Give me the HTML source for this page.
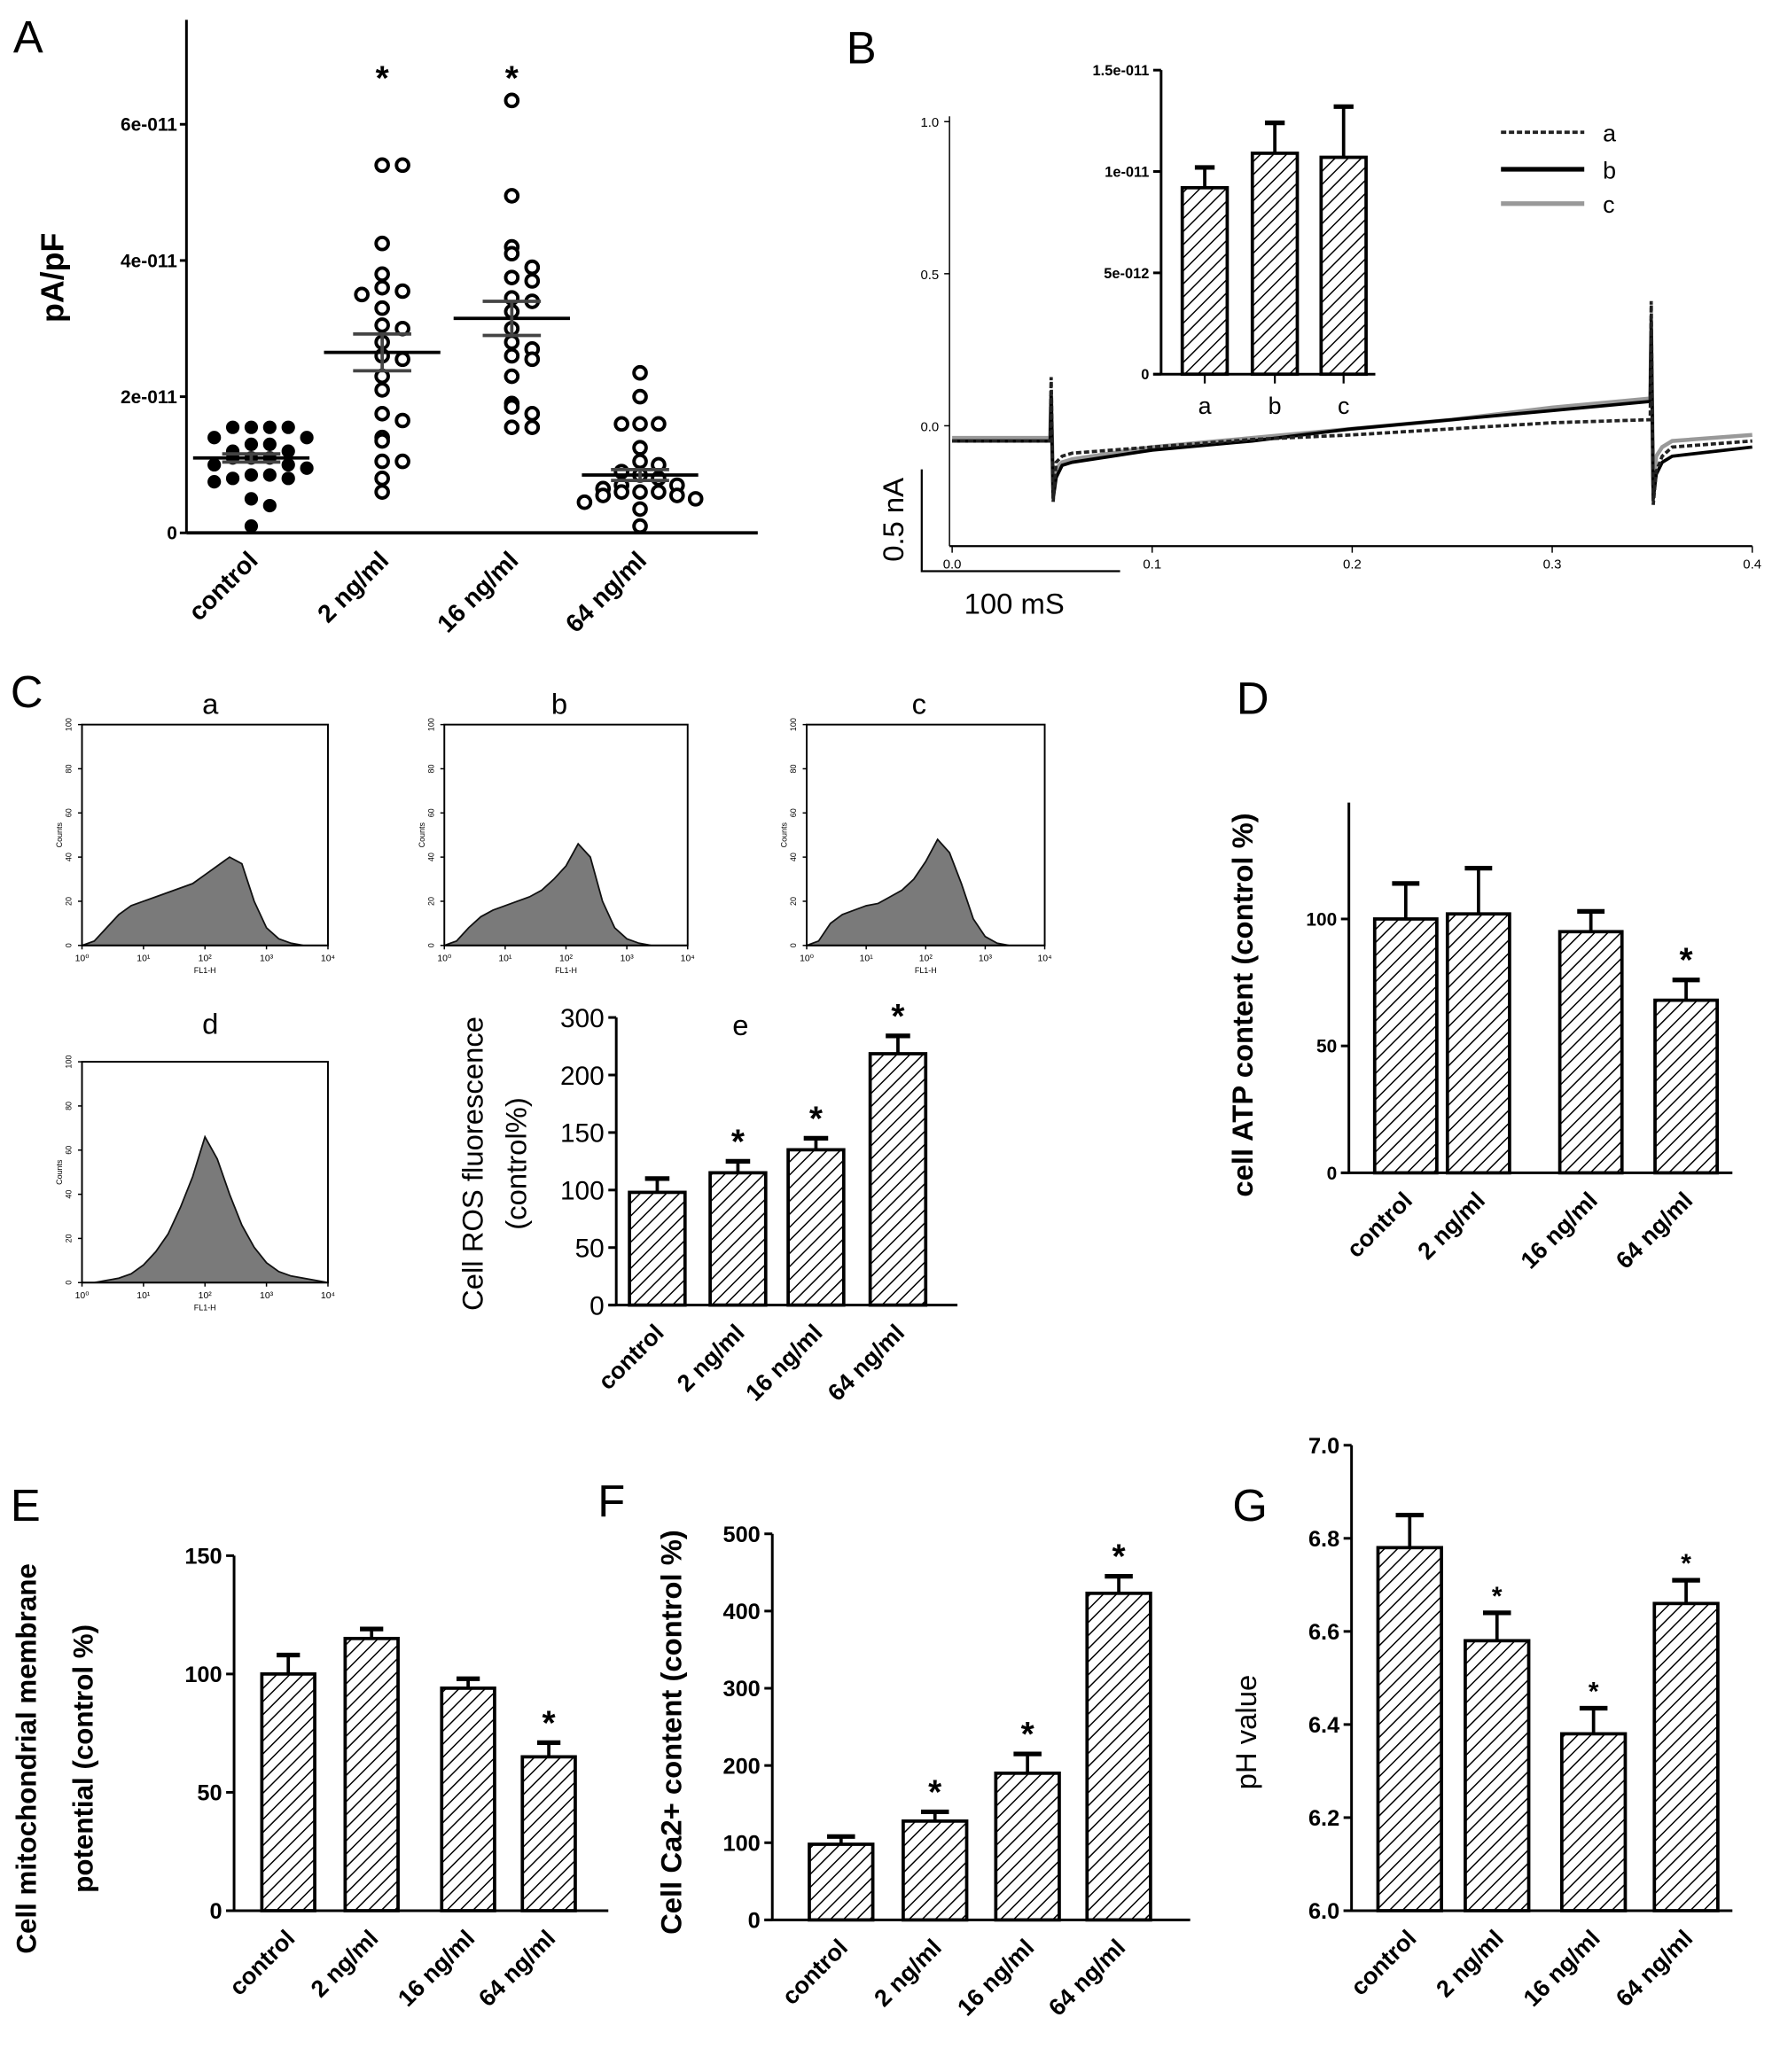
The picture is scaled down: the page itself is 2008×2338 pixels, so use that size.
<!DOCTYPE html>
<html><head><meta charset="utf-8"><style>
html,body{margin:0;padding:0;background:#fff}
svg{display:block}
text{font-family:"Liberation Sans",Arial,sans-serif}
</style></head><body>
<svg id="fig" xmlns="http://www.w3.org/2000/svg" width="2008" height="2338" viewBox="0 0 1346 1567" preserveAspectRatio="none">
<defs>
<pattern id="hatch" patternUnits="userSpaceOnUse" width="7" height="7" patternTransform="rotate(45)">
<rect width="7" height="7" fill="#fff"/><line x1="0" y1="0" x2="0" y2="7" stroke="#000" stroke-width="2"/>
</pattern>
</defs>
<rect width="1346" height="1567" fill="#fff"/>
</svg>
<script>
const NS='http://www.w3.org/2000/svg';
const svg=document.getElementById('fig');
function mk(tag,attrs,parent,txt){const e=document.createElementNS(NS,tag);for(const k in attrs)e.setAttribute(k,attrs[k]);if(txt!==undefined)e.textContent=txt;(parent||svg).appendChild(e);return e;}

/* ---------- DATA ---------- */
const cats=['control','2 ng/ml','16 ng/ml','64 ng/ml'];
const aControl=[1.55,1.55,1.55,1.55,1.4,1.4,1.3,1.3,1.2,1.2,1.1,1.1,1.1,1.0,1.0,0.95,0.85,0.85,0.8,0.8,0.75,0.5,0.4,0.1];
const a2=[5.4,5.4,4.25,3.8,3.6,3.55,3.5,3.3,3.05,3.0,2.8,2.6,2.55,2.3,2.1,1.75,1.65,1.4,1.35,1.05,1.05,0.8,0.6];
const a16=[6.35,4.95,4.2,4.1,3.9,3.75,3.7,3.45,3.4,3.25,3.0,2.8,2.7,2.6,2.55,2.3,1.9,1.85,1.75,1.55,1.55];
const a64=[2.35,2.0,1.6,1.6,1.6,1.25,1.05,1.0,0.9,0.85,0.8,0.7,0.7,0.65,0.6,0.6,0.6,0.55,0.55,0.5,0.45,0.35,0.1];
const aMean=[1.1,2.65,3.15,0.85];
const aSem=[0.06,0.27,0.25,0.08];
const aTicks=[0,2,4,6];
const aTickLabels=['0','2e-011','4e-011','6e-011'];
const bCats=['a','b','c'];
const bVals=[0.92,1.09,1.07];
const bErr=[0.10,0.15,0.25];
const bTicks=[0,0.5,1.0,1.5];
const bTickLabels=['0','5e-012','1e-011','1.5e-011'];
const trT=[0,0.049,0.0495,0.0505,0.052,0.055,0.06,0.08,0.1,0.15,0.2,0.25,0.3,0.349,0.3495,0.3505,0.352,0.355,0.36,0.4];
const trA=[-0.05,-0.05,0.16,-0.25,-0.12,-0.1,-0.09,-0.08,-0.07,-0.045,-0.03,-0.01,0.01,0.02,0.41,-0.26,-0.15,-0.1,-0.07,-0.05];
const trB=[-0.05,-0.05,0.1,-0.24,-0.17,-0.13,-0.12,-0.1,-0.08,-0.05,-0.01,0.02,0.05,0.08,0.35,-0.24,-0.16,-0.12,-0.1,-0.07];
const trC=[-0.04,-0.04,0.1,-0.22,-0.14,-0.12,-0.11,-0.09,-0.07,-0.04,-0.01,0.02,0.06,0.09,0.3,-0.2,-0.1,-0.07,-0.05,-0.03];
const trTicks=[0,0.1,0.2,0.3,0.4];
const trYTicks=[0,0.5,1.0];
const histA=[0,2,8,14,18,20,22,24,26,28,32,36,40,37,20,8,3,1,0,0,0];
const histB=[0,2,8,13,16,18,20,22,25,30,36,46,40,20,8,3,1,0,0,0,0];
const histC=[0,2,10,14,16,18,19,22,25,30,38,48,42,28,12,4,1,0,0,0,0];
const histD=[0,0,1,2,4,8,14,22,34,48,66,56,40,26,16,9,5,3,2,1,0];
const histTicks=[0,20,40,60,80,100];
const eVals=[98,115,135,237];
const eErr=[12,10,10,31];
const eTicks=[0,50,100,150,200,300];
const dVals=[100,102,95,68];
const dErr=[14,18,8,8];
const dTicks=[0,50,100];
const EVals=[100,115,94,65];
const EErr=[8,4,4,6];
const ETicks=[0,50,100,150];
const fVals=[98,128,190,423];
const fErr=[10,12,25,22];
const fTicks=[0,100,200,300,400,500];
const gVals=[6.78,6.58,6.38,6.66];
const gErr=[0.07,0.06,0.055,0.05];
const gTicks=[6.0,6.2,6.4,6.6,6.8,7.0];
const gTickLabels=['6.0','6.2','6.4','6.6','6.8','7.0'];

/* ---------- helpers ---------- */
function letter(t,x,y){const e=mk('text',{x:x,y:y,'font-size':34},svg,t);}
function catLabels(g,xs,y0,fs,name){xs.forEach((x,i)=>{const t=mk('text',{x:x+6,y:y0,'font-size':fs,'font-weight':'bold','text-anchor':'end',transform:`rotate(-45 ${x+6} ${y0})`},g,cats[i]);});}
function barChart(o){
 const g=mk('g',{});
 const Y=o.yf;
 const ya=mk('line',{x1:o.ax,y1:Y(o.ticks[o.ticks.length-1])-(o.extra||0),x2:o.ax,y2:o.y0,stroke:'#000','stroke-width':2},g);
 
 const xa=mk('line',{x1:o.ax-6,y1:o.y0,x2:o.axEnd,y2:o.y0,stroke:'#000','stroke-width':2},g);
 
 o.ticks.forEach((v,i)=>{const y=Y(v);mk('line',{x1:o.ax-6,y1:y,x2:o.ax,y2:y,stroke:'#000','stroke-width':2},g);
  const t=mk('text',{x:o.ax-9,y:y+o.tfs*0.36,'font-size':o.tfs,'text-anchor':'end','font-weight':o.tbold?'bold':'normal'},g,o.tl?o.tl[i]:String(v));
  });
 o.vals.forEach((v,i)=>{const x=o.xs[i],w=o.bw;const yt=Y(v),ye=Y(v+o.err[i]);
  mk('line',{x1:x,y1:yt,x2:x,y2:ye,stroke:'#000','stroke-width':2.5},g);
  mk('line',{x1:x-w*0.22,y1:ye,x2:x+w*0.22,y2:ye,stroke:'#000','stroke-width':3.5},g);
  const b=mk('rect',{x:x-w/2,y:yt,width:w,height:o.y0-yt,fill:'url(#hatch)',stroke:'#000','stroke-width':2.5},g);
  
  if(o.stars&&o.stars[i]){const s=mk('text',{x:x,y:ye-(o.starGap||6),'font-size':o.starSize||26,'text-anchor':'middle','font-weight':'bold'},g,'*');}
 });
 if(o.cats!==false)catLabels(g,o.xs,o.y0+22,o.cfs||18,o.name);
 if(o.ylab){o.ylab.forEach(l=>{const t=mk('text',{x:l[0],y:l[1],'font-size':l[3]||22,'font-weight':l[4]||'bold','text-anchor':'middle',transform:`rotate(-90 ${l[0]} ${l[1]})`},g,l[2]);});}
 return g;
}

/* ---------- Panel A ---------- */
letter('A',10,40);
(function(){
 const g=mk('g',{});
 const ax=141,y0=403,k=51.5,Y=v=>y0-v*k;const xs=[190,289,387,484];
 mk('line',{x1:ax,y1:15,x2:ax,y2:y0,stroke:'#000','stroke-width':2},g);
 mk('line',{x1:ax,y1:y0,x2:573,y2:y0,stroke:'#000','stroke-width':2.5},g);
 aTicks.forEach((v,i)=>{mk('line',{x1:ax-5,y1:Y(v),x2:ax,y2:Y(v),stroke:'#000','stroke-width':2},g);
  const t=mk('text',{x:ax-7,y:Y(v)+5,'font-size':14,'font-weight':'bold','text-anchor':'end'},g,aTickLabels[i]);});
 const yl=mk('text',{x:48,y:210,'font-size':24,'font-weight':'bold','text-anchor':'middle',transform:'rotate(-90 48 210)'},g,'pA/pF');
 const sets=[aControl,a2,a16,a64];
 sets.forEach((s,ci)=>{const cnt={};s.forEach((v,i)=>{const key=Math.round(v*4);cnt[key]=(cnt[key]||0)+1;const n=cnt[key]-1;
   const off=(n%2?1:-1)*Math.ceil(n/2)*14*(ci===0||ci===3?1:1.1);
   const c=mk('circle',{cx:xs[ci]+off,cy:Y(v),r:4.6,fill:ci===0?'#000':'#fff',stroke:'#000','stroke-width':ci===0?1:2.6},g);
   });
  mk('line',{x1:xs[ci]-44,y1:Y(aMean[ci]),x2:xs[ci]+44,y2:Y(aMean[ci]),stroke:'#000','stroke-width':2.5},g);
  mk('line',{x1:xs[ci],y1:Y(aMean[ci]+aSem[ci]),x2:xs[ci],y2:Y(aMean[ci]-aSem[ci]),stroke:'#444','stroke-width':2.5},g);
  [1,-1].forEach(sg=>mk('line',{x1:xs[ci]-22,y1:Y(aMean[ci]+sg*aSem[ci]),x2:xs[ci]+22,y2:Y(aMean[ci]+sg*aSem[ci]),stroke:'#444','stroke-width':2.5},g));
 });
 [1,2].forEach(ci=>{const s=mk('text',{x:xs[ci],y:68,'font-size':26,'text-anchor':'middle','font-weight':'bold'},g,'*');});
 catLabels(g,xs,425,19,'panel-a');
})();

/* ---------- Panel B ---------- */
letter('B',640,48);
(function(){
 const g=mk('g',{});
 const X=t=>720+t*1512.5,Y=v=>322-v*230;
 mk('line',{x1:718,y1:88,x2:718,y2:413,stroke:'#000','stroke-width':1},g);
 mk('line',{x1:718,y1:413,x2:1325,y2:413,stroke:'#000','stroke-width':1.5},g);
 trTicks.forEach(t=>{mk('line',{x1:X(t),y1:413,x2:X(t),y2:418,stroke:'#000'},g);const tl=mk('text',{x:X(t),y:430,'font-size':10,'text-anchor':'middle','font-family':'Liberation Serif'},g,t.toFixed(1));});
 trYTicks.forEach(v=>{mk('line',{x1:714,y1:Y(v),x2:718,y2:Y(v),stroke:'#000'},g);const tl=mk('text',{x:710,y:Y(v)+4,'font-size':10,'text-anchor':'end','font-family':'Liberation Serif'},g,v.toFixed(1));});
 const traces=[[trC,'#999',3,''],[trB,'#000',2.5,''],[trA,'#222',2.5,'4 2']];
 ['trace-c','trace-b','trace-a'].forEach((nm,j)=>{const tr=traces[j];const p=mk('polyline',{points:trT.map((t,i)=>X(t)+','+Y(tr[0][i])).join(' '),fill:'none',stroke:tr[1],'stroke-width':tr[2],'stroke-dasharray':tr[3]},g);});
 mk('polyline',{points:'697,355 697,432 847,432',fill:'none',stroke:'#000','stroke-width':1.5},g);
 const s1=mk('text',{x:683,y:393,'font-size':22,'text-anchor':'middle',transform:'rotate(-90 683 393)'},g,'0.5 nA');
 const s2=mk('text',{x:767,y:464,'font-size':22,'text-anchor':'middle'},g,'100 mS');
 [['a','#222','4 2',2.5,100],['b','#000','',3.5,128],['c','#999','',3.5,154]].forEach(l=>{
  const le=mk('g',{},g);
  mk('line',{x1:1135,y1:l[4],x2:1198,y2:l[4],stroke:l[1],'stroke-width':l[3],'stroke-dasharray':l[2]},le);
  mk('text',{x:1212,y:l[4]+7,'font-size':18},le,l[0]);});
 const ig=barChart({name:'panel-b-inset',ax:878,axEnd:1040,y0:283,yf:v=>283-v*153.3,ticks:bTicks,tl:bTickLabels,tfs:11,tbold:true,vals:bVals,err:bErr,xs:[911,964,1016],bw:34,cats:false,cn:bCats});
 bCats.forEach((c,i)=>{const x=[911,964,1016][i];mk('line',{x1:x,y1:283,x2:x,y2:290,stroke:'#000','stroke-width':1.5},ig);const t=mk('text',{x:x,y:313,'font-size':18,'text-anchor':'middle'},ig,c);});
})();

/* ---------- Panel C ---------- */
letter('C',8,535);
function hist(name,title,x0,y0,w,h,data,tx,ty){
 const g=mk('g',{});
 const t=mk('text',{x:tx,y:ty,'font-size':22,'text-anchor':'middle'},g,title);
 const X=i=>x0+i*w/(data.length-1),Y=v=>y0+h-v*h/100;
 let pts=[x0+','+(y0+h)];data.forEach((v,i)=>pts.push(X(i)+','+Y(v)));pts.push((x0+w)+','+(y0+h));
 const p=mk('polygon',{points:pts.join(' '),fill:'#7a7a7a',stroke:'#111','stroke-width':1.2},g);
 mk('rect',{x:x0,y:y0,width:w,height:h,fill:'none',stroke:'#000','stroke-width':1.3},g);
 histTicks.forEach(v=>{mk('line',{x1:x0-3,y1:Y(v),x2:x0,y2:Y(v),stroke:'#000'},g);mk('text',{x:x0-8,y:Y(v),'font-size':6,'text-anchor':'middle',transform:`rotate(-90 ${x0-8} ${Y(v)})`},g,String(v));});
 ['10⁰','10¹','10²','10³','10⁴'].forEach((l,i)=>{const xx=x0+i*w/4;mk('line',{x1:xx,y1:y0+h,x2:xx,y2:y0+h+3,stroke:'#000'},g);mk('text',{x:xx,y:y0+h+12,'font-size':7,'text-anchor':'middle'},g,l);});
 mk('text',{x:x0+w/2,y:y0+h+21,'font-size':6,'text-anchor':'middle'},g,'FL1-H');
 mk('text',{x:x0-15,y:y0+h/2,'font-size':6,'text-anchor':'middle',transform:`rotate(-90 ${x0-15} ${y0+h/2})`},g,'Counts');
}
hist('histogram-a','a',62,548,186,167,histA,159,540);
hist('histogram-b','b',336,548,184,167,histB,423,540);
hist('histogram-c','c',610,548,180,167,histC,695,540);
hist('histogram-d','d',62,803,186,167,histD,159,782);
(function(){
 const eY=v=>v<=200?987-v*0.87:987-174-(v-200)*0.435;
 const g=barChart({name:'panel-e-ros',ax:466,axEnd:724,y0:987,yf:eY,ticks:eTicks,tfs:20,vals:eVals,err:eErr,xs:[497,558,617,679],bw:42,stars:[0,1,1,1],cfs:18,
  ylab:[[365,880,'Cell ROS fluorescence',22,'normal'],[398,880,'(control%)',22,'normal']]});
 const t=mk('text',{x:560,y:783,'font-size':22,'text-anchor':'middle'},g,'e');
})();

/* ---------- Panel D ---------- */
letter('D',935,540);
barChart({name:'panel-d-atp',ax:1020,axEnd:1310,y0:887,yf:v=>887-v*1.92,ticks:dTicks,tfs:14,tbold:true,vals:dVals,err:dErr,xs:[1063,1118,1203,1275],bw:47,stars:[0,0,0,1],extra:88,cfs:18,
 ylab:[[947,760,'cell ATP content (control %)',22,'bold']]});

/* ---------- Panel E ---------- */
letter('E',8,1150);
barChart({name:'panel-e-mmp',ax:177,axEnd:460,y0:1445,yf:v=>1445-v*1.79,ticks:ETicks,tfs:17,tbold:true,vals:EVals,err:EErr,xs:[218,281,354,415],bw:40,stars:[0,0,0,1],cfs:18,
 ylab:[[27,1330,'Cell mitochondrial membrane',21,'bold'],[70,1330,'potential (control %)',21,'bold']]});

/* ---------- Panel F ---------- */
letter('F',452,1147);
barChart({name:'panel-f-calcium',ax:584,axEnd:900,y0:1452,yf:v=>1452-v*0.584,ticks:fTicks,tfs:17,tbold:true,vals:fVals,err:fErr,xs:[636,707,777,846],bw:48,stars:[0,1,1,1],cfs:18,
 ylab:[[515,1310,'Cell Ca2+ content (control %)',22,'bold']]});

/* ---------- Panel G ---------- */
letter('G',932,1150);
barChart({name:'panel-g-ph',ax:1022,axEnd:1310,y0:1445,yf:v=>1445-(v-6)*352,ticks:gTicks,tl:gTickLabels,tfs:17,tbold:true,vals:gVals,err:gErr,xs:[1066,1132,1205,1275],bw:48,stars:[0,1,1,1],starSize:20,cfs:18,
 ylab:[[950,1310,'pH value',22,'normal']]});
</script>
</body></html>
